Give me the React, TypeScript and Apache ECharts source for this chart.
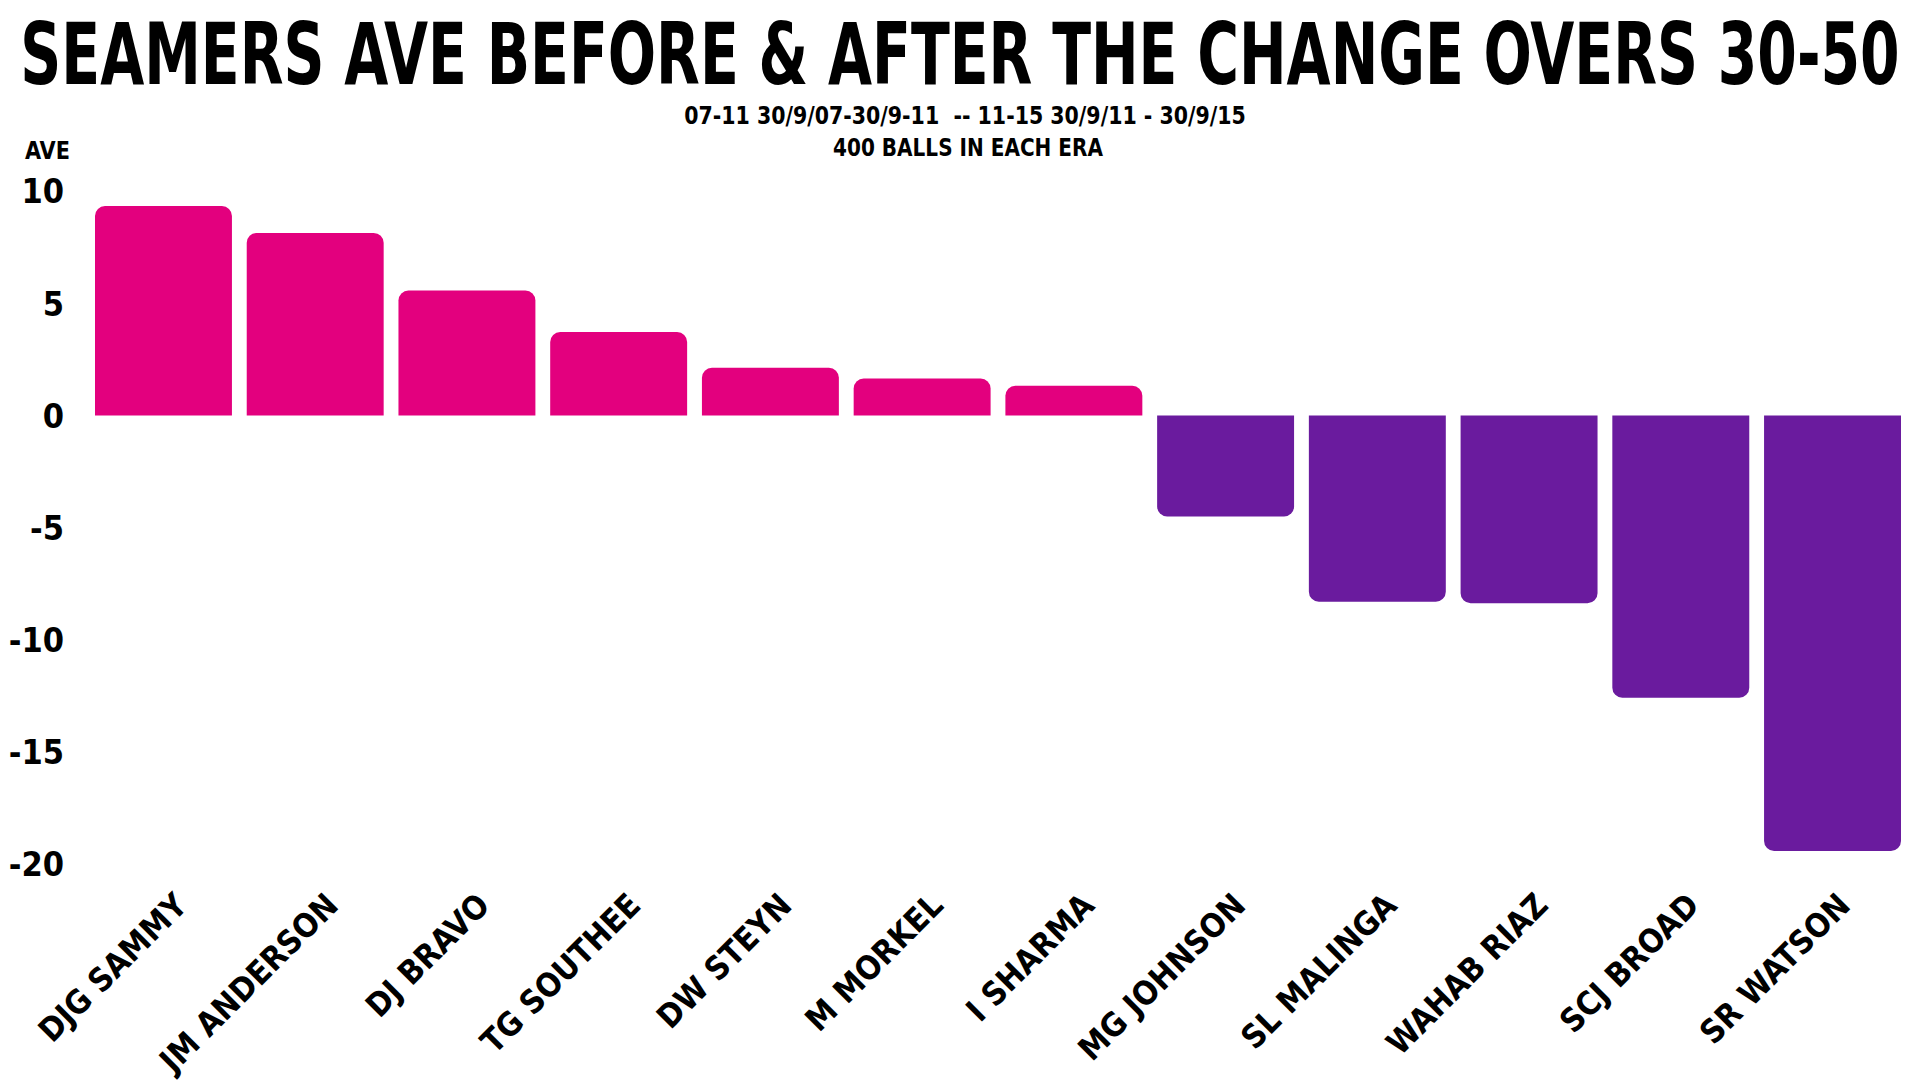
import React, { useEffect, useRef } from "react";
import * as echarts from "echarts";

const titleText = "SEAMERS AVE BEFORE & AFTER THE CHANGE OVERS 30-50";
const subtitleLine1 = "07-11 30/9/07-30/9-11  -- 11-15 30/9/11 - 30/9/15";
const subtitleLine2 = "400 BALLS IN EACH ERA";
const yAxisTitle = "AVE";

const bowlers = [
  "DJG SAMMY",
  "JM ANDERSON",
  "DJ BRAVO",
  "TG SOUTHEE",
  "DW STEYN",
  "M MORKEL",
  "I SHARMA",
  "MG JOHNSON",
  "SL MALINGA",
  "WAHAB RIAZ",
  "SCJ BROAD",
  "SR WATSON",
];
const aveChange = [9.35, 8.15, 5.58, 3.73, 2.13, 1.65, 1.33, -4.5, -8.3, -8.37, -12.58, -19.42];

const yMin = -20;
const yMax = 10;
const yInterval = 5;

const POS_COLOR = "#E3007E";
const NEG_COLOR = "#6A1B9E";
const FONT = "'DejaVu Sans Condensed', 'Liberation Sans Narrow', 'DejaVu Sans', sans-serif";
const CAP_RATIO = 0.729;

function measure(text: string, size: number): number {
  const c = document.createElement("canvas").getContext("2d");
  if (!c) return text.length * size * 0.6;
  c.font = `bold ${size}px ${FONT}`;
  return c.measureText(text).width;
}

export default function App() {
  const ref = useRef<HTMLDivElement>(null);

  useEffect(() => {
    if (!ref.current) return;
    const chart = echarts.init(ref.current, null, { renderer: "svg" });

    const gridLeft = 87.6;
    const gridRight = 11.6;
    const gridTop = 191.4;
    const gridBottom = 1080 - 864;
    const labelShift = 18;

    // font sizes fitted to measured text widths in the reference
    const xLabelSize = Math.round(33 * (236 / measure("JM ANDERSON", 33)) * 10) / 10;

    // text fitted to a target width; stretched vertically to the target cap height
    const fitText = (text: string, cx: number, cy: number, width: number, capH: number, align: string) => {
      const size = 40 * (width / measure(text, 40));
      const sy = capH / (CAP_RATIO * size);
      return {
        type: "text",
        x: cx,
        y: cy,
        scaleX: 1,
        scaleY: sy,
        style: {
          text,
          x: 0,
          y: 0,
          fill: "#000",
          font: `bold ${size.toFixed(2)}px ${FONT}`,
          textAlign: align,
          textVerticalAlign: "middle",
        },
      };
    };

    chart.setOption({
      animation: false,
      backgroundColor: "#ffffff",
      graphic: [
        fitText(titleText, 960, 54, 1880, 62, "center"),
        fitText(subtitleLine1, 965, 115.4, 562, 18.5, "center"),
        fitText(subtitleLine2, 968, 147.5, 270, 18.5, "center"),
        fitText(yAxisTitle, 47.5, 150, 45, 18.5, "center"),
      ],
      grid: [
        { left: gridLeft, right: gridRight, top: gridTop, bottom: gridBottom, containLabel: false },
        { left: gridLeft + labelShift, right: gridRight - labelShift, top: gridTop, bottom: gridBottom, containLabel: false },
      ],
      xAxis: [
        {
          type: "category",
          gridIndex: 0,
          data: bowlers,
          axisLine: { show: false },
          axisTick: { show: false },
          axisLabel: { show: false },
          splitLine: { show: false },
        },
        {
          type: "category",
          gridIndex: 1,
          data: bowlers,
          position: "bottom",
          axisLine: { show: false },
          axisTick: { show: false },
          splitLine: { show: false },
          axisLabel: {
            interval: 0,
            rotate: 45,
            margin: 52,
            color: "#000",
            fontFamily: FONT,
            fontWeight: "bold",
            fontSize: xLabelSize,
          },
        },
      ],
      yAxis: [
        {
          type: "value",
          gridIndex: 0,
          min: yMin,
          max: yMax,
          interval: yInterval,
          axisLine: { show: false },
          axisTick: { show: false },
          splitLine: { show: false },
          axisLabel: {
            margin: 23.6,
            color: "#000",
            fontFamily: FONT,
            fontWeight: "bold",
            fontSize: 34,
          },
        },
        {
          type: "value",
          gridIndex: 1,
          min: yMin,
          max: yMax,
          show: false,
        },
      ],
      series: [
        {
          type: "bar",
          xAxisIndex: 0,
          yAxisIndex: 0,
          barCategoryGap: "9.75%",
          data: aveChange.map((v) => ({
            value: v,
            itemStyle: {
              color: v >= 0 ? POS_COLOR : NEG_COLOR,
              borderRadius: v >= 0 ? [10, 10, 0, 0] : [0, 0, 10, 10],
            },
          })),
        },
      ],
    } as any);

    return () => chart.dispose();
  }, []);

  return (
    <div
      ref={ref}
      style={{ position: "fixed", left: 0, top: 0, width: 1920, height: 1080, background: "#fff" }}
    />
  );
}
